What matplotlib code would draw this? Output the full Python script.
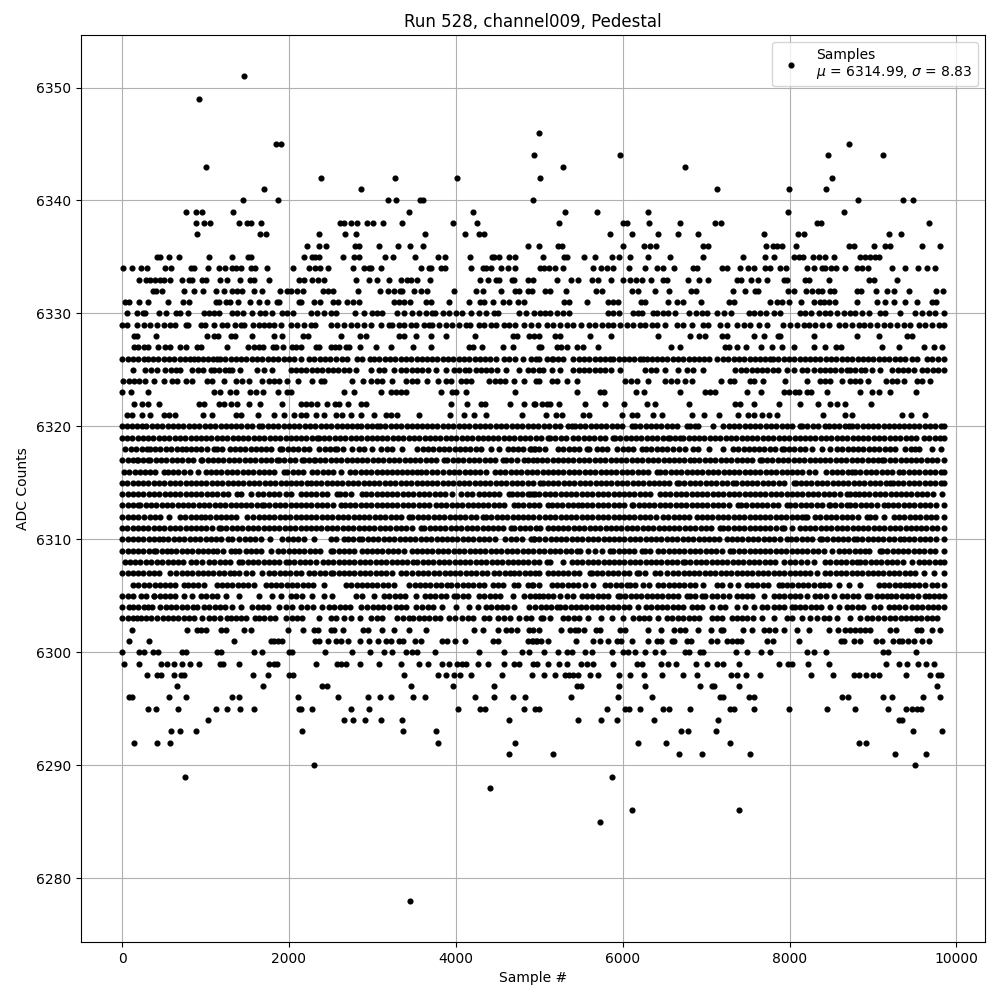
import matplotlib
matplotlib.use("Agg")
import matplotlib.pyplot as plt

# sample numbers, one list per ADC level
s6351 = [1460]
s6349 = [920]
s6346 = [5000]
s6345 = [1844, 1908, 8708]
s6344 = [4940, 5972, 8456, 9116]
s6343 = [1004, 5288, 6752]
s6342 = [2384, 3272, 4016, 5012, 8504]
s6341 = [1700, 2864, 7136, 7988, 8432]
s6340 = [1448, 1868, 3188, 3284, 3572, 3604, 4928, 8816, 9356, 9476]
s6339 = [764, 884, 960, 1328, 3440, 4208, 5312, 5696, 6308, 7976, 8648]
s6338 = [884, 980, 1052, 1400, 1492, 1540, 1664, 2612, 2660, 2748, 2816, 2936, 3008, 3128, 3356, 3968, 4256, 5240, 6008, 6056, 6320, 6692, 7112, 7184, 8324, 8372, 9668]
s6337 = [896, 1652, 1724, 2360, 2672, 2804, 3632, 4112, 4280, 4332, 5852, 6116, 6428, 6668, 6908, 7688, 8096, 8168, 9188, 9332]
s6336 = [2216, 2360, 2444, 2792, 2840, 3080, 3308, 3452, 3608, 4868, 5000, 5228, 5268, 6008, 6260, 6332, 6404, 6968, 7028, 7712, 7796, 7844, 7904, 8072, 8708, 8768, 9008, 9148, 9200, 9584, 9800]
s6335 = [420, 460, 560, 680, 1040, 1316, 1508, 1540, 2180, 2276, 2308, 2360, 2648, 2780, 2840, 3152, 3248, 3512, 3788, 3872, 4172, 4428, 4460, 4512, 4640, 4708, 5048, 5300, 5336, 5540, 5672, 5876, 5960, 6092, 6308, 6572, 6968, 7436, 7700, 7808, 8048, 8108, 8156, 8276, 8348, 8428, 8528, 8848, 8908, 8968, 9028, 9068]
s6334 = [8, 116, 224, 296, 512, 592, 820, 860, 1028, 1160, 1232, 1320, 1360, 1424, 1540, 1592, 1736, 2048, 2240, 2308, 2372, 2468, 2768, 2900, 2960, 2988, 3104, 3584, 3680, 3708, 3820, 3868, 4184, 4320, 4360, 4420, 4540, 4628, 4712, 5008, 5056, 5120, 5192, 5288, 5648, 5744, 5816, 5888, 6080, 6272, 6416, 6488, 6620, 6848, 6896, 7196, 7256, 7412, 7496, 7568, 7700, 7768, 7880, 7960, 8204, 8288, 8388, 8428, 8492, 8560, 8660, 8808, 8868, 8936, 9224, 9380, 9536, 9644, 9740]
s6333 = [200, 292, 340, 400, 460, 500, 572, 716, 800, 840, 960, 1000, 1172, 1256, 1412, 1532, 1580, 1760, 2120, 2180, 2276, 2348, 2420, 2804, 2960, 3056, 3200, 3344, 3420, 3468, 3536, 3692, 4292, 4388, 4480, 4512, 4676, 4692, 4868, 4920, 5216, 5384, 5468, 5628, 5708, 5864, 6008, 6088, 6160, 6232, 6344, 6488, 6536, 6788, 6920, 7028, 7368, 7424, 7532, 7616, 7724, 7928, 7968, 8188, 8228, 8468, 8948, 9008, 9284]
s6332 = [368, 412, 480, 740, 860, 968, 1128, 1220, 1320, 1372, 1436, 1580, 1680, 1892, 1980, 2020, 2092, 2164, 2408, 2468, 2528, 2828, 3092, 3188, 3260, 3332, 3360, 3500, 3584, 3656, 3980, 4244, 4328, 4544, 4708, 4760, 4860, 4908, 5068, 5128, 5324, 5684, 5756, 6116, 6188, 6392, 6560, 6824, 6876, 7328, 7460, 7580, 7616, 7980, 8048, 8192, 8268, 8336, 8388, 8480, 8528, 8804, 8856, 9032, 9164, 9248, 9428, 9752, 9836]
s6331 = [40, 80, 200, 308, 548, 732, 800, 1120, 1160, 1240, 1292, 1388, 1532, 1640, 1736, 1860, 1880, 2120, 2148, 2296, 2372, 2528, 2588, 2692, 2768, 2840, 3260, 3320, 3380, 3448, 3640, 3708, 3920, 4160, 4292, 4340, 4448, 4560, 4640, 4740, 4820, 5300, 5360, 5576, 5828, 5888, 5948, 6224, 6268, 6548, 6648, 6728, 6944, 7280, 7340, 7760, 7848, 7908, 7988, 8132, 8288, 8368, 8408, 8468, 8540, 8804, 9048, 9140, 9248, 9380, 9524, 9708, 9752]
s6330 = [56, 176, 248, 280, 440, 524, 652, 692, 788, 980, 1040, 1100, 1160, 1320, 1380, 1448, 1556, 1652, 1712, 1800, 1920, 1980, 2044, 2260, 2340, 2420, 2500, 2560, 2792, 2900, 2996, 3060, 3120, 3300, 3380, 3480, 3560, 3640, 3720, 3752, 3852, 3920, 4000, 4080, 4184, 4276, 4364, 4460, 4508, 4760, 4840, 4940, 5008, 5068, 5128, 5208, 5288, 5360, 5828, 5888, 5960, 6128, 6188, 6228, 6368, 6408, 6488, 6548, 6628, 6800, 6884, 6956, 7008, 7136, 7220, 7304, 7508, 7568, 7640, 7712, 7808, 7888, 8120, 8188, 8252, 8348, 8428, 8488, 8568, 8648, 8728, 8788, 8868, 8948, 9088, 9148, 9320, 9500, 9588, 9668, 9748, 9848]
s6329 = [0, 60, 180, 260, 340, 420, 500, 580, 640, 760, 790, 940, 990, 1100, 1200, 1260, 1350, 1420, 1460, 1570, 1640, 1700, 1760, 1820, 1900, 2020, 2100, 2180, 2260, 2310, 2500, 2580, 2660, 2740, 2820, 2900, 2980, 3100, 3200, 3230, 3320, 3380, 3460, 3520, 3620, 3680, 3720, 3800, 3880, 3960, 4040, 4120, 4170, 4280, 4340, 4420, 4480, 4580, 4640, 4710, 4820, 4900, 4980, 5088, 5168, 5248, 5328, 5408, 5496, 5600, 5668, 5748, 5828, 5888, 5968, 6048, 6128, 6208, 6268, 6348, 6408, 6508, 6648, 6728, 6828, 6968, 7028, 7168, 7248, 7368, 7448, 7528, 7628, 7728, 7920, 8008, 8088, 8168, 8228, 8308, 8388, 8468, 8588, 8668, 8748, 8828, 8888, 8968, 9048, 9128, 9208, 9288, 9368, 9448, 9548, 9628, 9708, 9788, 9848]
s6328 = [140, 180, 408, 1020, 1100, 1150, 1300, 1350, 1556, 1820, 1916, 2168, 2228, 2624, 2852, 2920, 3320, 3380, 3524, 3704, 3884, 4232, 4680, 4728, 4880, 4940, 4992, 5188, 5248, 5612, 5864, 6428, 6808, 6920, 6992, 7196, 7256, 7568, 7688, 7856, 7888, 8288, 8804, 9068, 9408, 9468]
s6327 = [140, 188, 260, 308, 428, 512, 572, 692, 760, 900, 948, 1256, 1508, 1580, 1640, 1692, 1808, 1848, 1928, 2032, 2084, 2140, 2320, 2360, 2500, 2548, 2600, 2680, 2720, 2852, 3044, 3220, 3484, 3704, 4152, 4200, 4316, 4560, 4680, 4992, 5020, 5216, 5260, 5336, 5456, 5520, 5708, 6584, 6692, 7228, 7276, 7376, 7472, 7652, 7788, 7908, 8048, 8288, 8420, 8556, 8616, 9104, 9308, 9608, 9728, 9824]
s6326 = [0, 65, 130, 195, 260, 308, 370, 435, 500, 560, 625, 690, 750, 810, 860, 908, 970, 1035, 1090, 1140, 1172, 1235, 1300, 1365, 1425, 1490, 1555, 1615, 1680, 1745, 1805, 1870, 1935, 1995, 2060, 2140, 2240, 2305, 2370, 2430, 2495, 2560, 2630, 2700, 2812, 2875, 2972, 3020, 3085, 3150, 3210, 3275, 3340, 3400, 3465, 3530, 3590, 3655, 3720, 3780, 3845, 3910, 3970, 4035, 4100, 4160, 4225, 4290, 4350, 4415, 4480, 4572, 4640, 4705, 4800, 4900, 4960, 5000, 5088, 5148, 5168, 5230, 5288, 5408, 5475, 5540, 5600, 5665, 5730, 5790, 5848, 5888, 5950, 6015, 6080, 6140, 6205, 6248, 6288, 6348, 6408, 6470, 6535, 6600, 6660, 6725, 6790, 6850, 6915, 6980, 7040, 7128, 7200, 7265, 7330, 7390, 7455, 7520, 7580, 7645, 7710, 7768, 7800, 7865, 7930, 7990, 8055, 8120, 8180, 8245, 8310, 8370, 8435, 8500, 8560, 8625, 8690, 8750, 8815, 8880, 8940, 9005, 9070, 9130, 9195, 9260, 9320, 9385, 9468, 9528, 9648, 9710, 9775, 9850]
s6325 = [132, 280, 345, 420, 520, 585, 650, 700, 840, 905, 970, 1060, 1100, 1165, 1230, 1280, 1320, 1412, 1620, 1700, 1796, 2020, 2085, 2150, 2210, 2275, 2340, 2400, 2465, 2530, 2590, 2655, 2720, 2800, 2980, 3080, 3145, 3260, 3340, 3405, 3470, 3540, 3600, 3665, 3760, 3880, 3980, 4040, 4105, 4160, 4240, 4300, 4360, 4425, 4490, 4600, 4760, 4860, 4925, 5000, 5048, 5148, 5248, 5408, 5475, 5540, 5600, 5665, 5730, 5790, 5855, 5968, 6268, 6335, 6400, 6508, 6668, 6768, 6848, 6968, 7348, 7415, 7480, 7548, 7608, 7670, 7735, 7800, 7860, 7968, 8048, 8148, 8215, 8288, 8360, 8425, 8490, 8550, 8615, 8688, 8728, 8790, 8855, 8908, 8988, 9088, 9228, 9295, 9360, 9420, 9488, 9588, 9650, 9715, 9780, 9850]
s6324 = [8, 80, 140, 205, 270, 380, 500, 600, 660, 760, 840, 1020, 1080, 1220, 1360, 1440, 1520, 1680, 1760, 1820, 1885, 1980, 2108, 2272, 2380, 2420, 2760, 2888, 2988, 3055, 3120, 3240, 3408, 3475, 3540, 3652, 3792, 3880, 3945, 4060, 4120, 4180, 4400, 4465, 4530, 4590, 4700, 4812, 4960, 5000, 5148, 5210, 5328, 5456, 6028, 6095, 6168, 6308, 6508, 6575, 6648, 6748, 6828, 7180, 7288, 7336, 7528, 7568, 7676, 7940, 8208, 8368, 8430, 8488, 8624, 8728, 8790, 8848, 8936, 9160, 9225, 9290, 9368, 9528, 9588, 9680]
s6323 = [0, 108, 312, 1100, 1172, 1288, 1360, 1528, 1600, 1692, 1868, 1980, 2020, 2660, 2780, 3108, 3220, 3280, 3340, 3400, 3820, 3960, 4000, 4124, 4712, 5456, 5728, 5776, 6160, 6256, 6692, 6988, 7048, 7108, 7484, 7652, 7928, 7988, 8068, 8108, 8208, 8256, 8444, 8840, 8988, 9068, 9200, 9516]
s6322 = [140, 240, 308, 440, 920, 980, 1160, 1220, 1308, 1372, 1520, 1648, 1920, 2140, 2200, 2260, 2340, 2460, 2548, 2600, 2708, 2860, 2920, 3940, 4136, 4300, 4348, 4652, 4812, 4948, 4936, 5028, 5088, 5128, 5240, 5552, 5788, 6020, 6296, 6392, 6800, 7348, 7408, 7568, 7868, 8120, 8336, 8488, 8568, 8668, 8972]
s6321 = [60, 120, 240, 340, 508, 560, 640, 968, 1080, 1360, 1428, 1628, 1820, 1940, 2060, 2140, 2200, 2328, 2420, 2560, 2640, 2740, 2860, 3020, 3160, 3220, 3292, 3560, 3932, 4100, 4220, 4360, 4788, 5080, 5200, 5268, 5528, 5600, 5996, 6108, 6168, 6360, 6468, 6836, 6980, 7160, 7388, 7496, 7576, 7668, 7756, 7848, 8396, 8668, 8748, 9348, 9452, 9620]
s6320 = [0, 60, 120, 180, 240, 292, 355, 420, 480, 545, 610, 670, 735, 800, 860, 925, 990, 1050, 1115, 1180, 1240, 1305, 1370, 1430, 1495, 1560, 1640, 1680, 1745, 1810, 1870, 1935, 2000, 2060, 2125, 2190, 2250, 2315, 2380, 2440, 2505, 2570, 2630, 2695, 2760, 2820, 2868, 2930, 3000, 3060, 3092, 3155, 3220, 3280, 3345, 3410, 3470, 3535, 3600, 3660, 3720, 3780, 3845, 3910, 3970, 4035, 4100, 4160, 4225, 4290, 4350, 4415, 4480, 4540, 4605, 4670, 4730, 4795, 4860, 4920, 4985, 5056, 5120, 5185, 5250, 5348, 5388, 5428, 5488, 5550, 5615, 5680, 5740, 5805, 5870, 5930, 5995, 6108, 6148, 6210, 6275, 6340, 6400, 6465, 6530, 6590, 6655, 6768, 6808, 6870, 6908, 7088, 7208, 7270, 7335, 7400, 7460, 7525, 7590, 7650, 7715, 7780, 7840, 7905, 7970, 8030, 8128, 8148, 8210, 8275, 8340, 8428, 8468, 8530, 8595, 8660, 8708, 8748, 8810, 8875, 8940, 9000, 9065, 9130, 9190, 9255, 9308, 9368, 9428, 9490, 9555, 9620, 9680, 9745, 9810, 9850]
s6319 = [0, 60, 120, 185, 250, 310, 375, 440, 500, 565, 630, 690, 755, 820, 880, 945, 1010, 1070, 1135, 1200, 1260, 1325, 1390, 1450, 1515, 1580, 1640, 1705, 1770, 1830, 1895, 1960, 2020, 2085, 2150, 2210, 2275, 2340, 2360, 2420, 2485, 2550, 2610, 2675, 2740, 2800, 2865, 2930, 2990, 3055, 3120, 3180, 3245, 3310, 3370, 3435, 3500, 3560, 3625, 3690, 3750, 3815, 3880, 3940, 4005, 4070, 4130, 4195, 4260, 4320, 4385, 4450, 4510, 4575, 4640, 4700, 4765, 4830, 4890, 4955, 5020, 5108, 5128, 5190, 5255, 5320, 5408, 5470, 5535, 5600, 5660, 5725, 5790, 5888, 5908, 5970, 6035, 6100, 6160, 6225, 6290, 6350, 6415, 6480, 6548, 6568, 6630, 6688, 6728, 6790, 6855, 6920, 6980, 7045, 7110, 7170, 7235, 7300, 7360, 7425, 7490, 7550, 7615, 7680, 7740, 7805, 7870, 7930, 7995, 8060, 8120, 8185, 8250, 8310, 8375, 8440, 8500, 8565, 8630, 8690, 8755, 8820, 8880, 8945, 9010, 9070, 9135, 9200, 9260, 9325, 9390, 9450, 9515, 9608, 9676, 9740, 9805, 9848]
s6318 = [40, 105, 170, 235, 300, 332, 395, 460, 525, 590, 655, 720, 760, 825, 890, 950, 1015, 1100, 1132, 1195, 1292, 1348, 1410, 1475, 1540, 1600, 1665, 1730, 1790, 1892, 1920, 1985, 2050, 2110, 2175, 2240, 2360, 2428, 2490, 2548, 2580, 2645, 2760, 2840, 2905, 3000, 3108, 3170, 3235, 3360, 3540, 3605, 3670, 3730, 3795, 3860, 3920, 3985, 4050, 4110, 4175, 4240, 4300, 4420, 4520, 4620, 4680, 4745, 4810, 4900, 4940, 5000, 4888, 4950, 5068, 5228, 5290, 5355, 5420, 5480, 5568, 5600, 5688, 5748, 5808, 5936, 6000, 6060, 6125, 6228, 6280, 6345, 6410, 6470, 6535, 6600, 6680, 6745, 6848, 6908, 7040, 7208, 7320, 7388, 7450, 7508, 7568, 7630, 7695, 7760, 7820, 7908, 7928, 7990, 8055, 8120, 8180, 8268, 8388, 8488, 8568, 8630, 8695, 8760, 8820, 8885, 8950, 9010, 9075, 9140, 9200, 9268, 9388, 9450, 9508, 9548, 9708, 9816]
s6317 = [0, 65, 130, 180, 188, 250, 308, 340, 405, 470, 530, 595, 660, 720, 785, 850, 940, 960, 1025, 1090, 1150, 1215, 1280, 1340, 1405, 1470, 1530, 1595, 1660, 1720, 1785, 1860, 1880, 1945, 2010, 2070, 2160, 2180, 2240, 2300, 2308, 2370, 2435, 2500, 2560, 2625, 2690, 2750, 2815, 2880, 2940, 3005, 3070, 3130, 3195, 3260, 3320, 3385, 3450, 3510, 3575, 3640, 3700, 3765, 3860, 3900, 3965, 4030, 4090, 4155, 4220, 4280, 4345, 4410, 4470, 4560, 4600, 4665, 4730, 4820, 4860, 4925, 4968, 5030, 5095, 5160, 5220, 5285, 5350, 5410, 5475, 5540, 5600, 5665, 5730, 5790, 5855, 5920, 5980, 6045, 6110, 6170, 6235, 6300, 6360, 6425, 6490, 6550, 6615, 6680, 6740, 6808, 6856, 6920, 6985, 7050, 7110, 7175, 7240, 7300, 7365, 7430, 7490, 7555, 7648, 7668, 7730, 7795, 7860, 7920, 7985, 8050, 8110, 8175, 8240, 8300, 8365, 8430, 8490, 8555, 8620, 8680, 8745, 8810, 8870, 8935, 9000, 9060, 9108, 9136, 9200, 9265, 9330, 9390, 9455, 9520, 9580, 9645, 9710, 9770, 9850]
s6316 = [20, 85, 150, 210, 275, 340, 400, 500, 548, 610, 675, 740, 808, 908, 1000, 1065, 1130, 1190, 1255, 1320, 1380, 1445, 1510, 1570, 1635, 1700, 1760, 1825, 1940, 1980, 2045, 2110, 2170, 2280, 2340, 2405, 2470, 2530, 2620, 2732, 2795, 2860, 2920, 2985, 3050, 3110, 3175, 3240, 3292, 3355, 3420, 3480, 3540, 3580, 3645, 3710, 3780, 3852, 3915, 3980, 4040, 4105, 4170, 4230, 4295, 4360, 4468, 4530, 4595, 4660, 4720, 4785, 4850, 4910, 4975, 5040, 5100, 5165, 5230, 5290, 5355, 5420, 5480, 5545, 5610, 5670, 5735, 5800, 5860, 5925, 5990, 6050, 6115, 6180, 6240, 6305, 6408, 6448, 6510, 6575, 6640, 6700, 6765, 6830, 6890, 6955, 7020, 7080, 7145, 7210, 7270, 7335, 7400, 7460, 7525, 7590, 7650, 7715, 7780, 7840, 7905, 7970, 8030, 8088, 8148, 8228, 8300, 8440, 8505, 8570, 8630, 8695, 8748, 8788, 8850, 8915, 8980, 9040, 9105, 9170, 9230, 9308, 9360, 9428, 9490, 9555, 9620, 9680, 9745, 9810, 9850]
s6315 = [0, 60, 125, 190, 250, 315, 380, 440, 505, 570, 630, 695, 760, 820, 885, 950, 1010, 1075, 1140, 1200, 1265, 1330, 1390, 1455, 1520, 1580, 1645, 1710, 1770, 1835, 1900, 1960, 2025, 2090, 2150, 2220, 2260, 2325, 2390, 2450, 2515, 2580, 2640, 2705, 2770, 2830, 2895, 2960, 3020, 3085, 3150, 3210, 3275, 3340, 3400, 3465, 3530, 3590, 3655, 3720, 3780, 3845, 3910, 3970, 4035, 4100, 4160, 4225, 4290, 4350, 4415, 4480, 4540, 4605, 4670, 4730, 4795, 4860, 4920, 5008, 5040, 5105, 5170, 5230, 5295, 5360, 5420, 5485, 5550, 5610, 5675, 5740, 5800, 5865, 5930, 5990, 6055, 6120, 6180, 6245, 6310, 6370, 6435, 6500, 6560, 6648, 6676, 6740, 6805, 6870, 6930, 6995, 7060, 7120, 7185, 7250, 7328, 7360, 7425, 7490, 7550, 7615, 7680, 7740, 7805, 7870, 7930, 8048, 8072, 8135, 8200, 8260, 8325, 8390, 8450, 8515, 8580, 8640, 8705, 8770, 8830, 8895, 8960, 9020, 9085, 9150, 9208, 9236, 9300, 9365, 9430, 9490, 9555, 9620, 9680, 9745, 9810, 9850]
s6314 = [0, 65, 130, 190, 255, 320, 380, 445, 510, 570, 635, 700, 760, 825, 890, 950, 1015, 1080, 1140, 1205, 1270, 1380, 1420, 1540, 1628, 1690, 1755, 1820, 1880, 1960, 2020, 2140, 2205, 2270, 2330, 2395, 2460, 2580, 2612, 2675, 2740, 2880, 2920, 2985, 3050, 3110, 3175, 3240, 3300, 3365, 3430, 3490, 3555, 3620, 3680, 3745, 3810, 3870, 3960, 4068, 4130, 4195, 4280, 4332, 4395, 4460, 4520, 4640, 4668, 4730, 4795, 4860, 4920, 5000, 4888, 4950, 5065, 5130, 5190, 5255, 5320, 5380, 5445, 5510, 5570, 5635, 5700, 5760, 5825, 5890, 5950, 6015, 6080, 6140, 6205, 6270, 6330, 6448, 6508, 6570, 6635, 6700, 6760, 6825, 6890, 6950, 7015, 7080, 7140, 7205, 7270, 7330, 7395, 7460, 7520, 7585, 7650, 7710, 7775, 7840, 7900, 7965, 8030, 8090, 8155, 8220, 8280, 8345, 8410, 8470, 8535, 8600, 8688, 8728, 8788, 8828, 8890, 8955, 9020, 9080, 9145, 9210, 9270, 9335, 9400, 9460, 9525, 9590, 9650, 9715, 9828]
s6313 = [0, 65, 130, 188, 220, 285, 350, 410, 475, 540, 600, 665, 730, 790, 855, 920, 980, 1045, 1110, 1170, 1235, 1300, 1360, 1425, 1490, 1550, 1615, 1680, 1700, 1765, 1830, 1890, 1955, 2020, 2080, 2145, 2210, 2270, 2335, 2400, 2460, 2525, 2620, 2668, 2730, 2795, 2860, 2920, 2985, 3050, 3110, 3175, 3240, 3300, 3365, 3430, 3490, 3555, 3620, 3680, 3760, 3820, 3885, 3950, 4010, 4075, 4140, 4200, 4265, 4330, 4390, 4455, 4520, 4580, 4692, 4748, 4810, 4875, 4940, 5000, 5108, 5148, 5210, 5275, 5340, 5400, 5468, 5508, 5570, 5635, 5700, 5760, 5825, 5890, 5950, 6015, 6108, 6128, 6190, 6255, 6320, 6380, 6445, 6510, 6570, 6635, 6700, 6760, 6825, 6890, 6950, 7015, 7080, 7140, 7205, 7270, 7388, 7416, 7480, 7545, 7610, 7670, 7735, 7800, 7860, 7968, 8008, 8070, 8135, 8200, 8260, 8325, 8390, 8468, 8488, 8550, 8615, 8688, 8728, 8790, 8855, 8920, 8980, 9045, 9128, 9176, 9240, 9305, 9370, 9430, 9495, 9560, 9620, 9685, 9750, 9850]
s6312 = [0, 65, 130, 190, 260, 332, 395, 460, 560, 692, 755, 820, 880, 940, 992, 1055, 1120, 1180, 1245, 1310, 1370, 1500, 1572, 1635, 1700, 1760, 1825, 1890, 1950, 2015, 2080, 2140, 2205, 2270, 2330, 2395, 2460, 2520, 2585, 2650, 2710, 2775, 2840, 2900, 2965, 3030, 3090, 3155, 3220, 3280, 3345, 3440, 3480, 3545, 3610, 3670, 3735, 3800, 3860, 3925, 3990, 4050, 4115, 4180, 4240, 4320, 4360, 4425, 4490, 4550, 4615, 4680, 4740, 4805, 4870, 4930, 5000, 5065, 5130, 5190, 5255, 5320, 5380, 5445, 5510, 5570, 5635, 5700, 5760, 5825, 5890, 5950, 6015, 6080, 6140, 6205, 6270, 6330, 6395, 6488, 6548, 6610, 6675, 6740, 6800, 6888, 6948, 7010, 7075, 7140, 7200, 7265, 7330, 7390, 7455, 7520, 7580, 7645, 7710, 7770, 7835, 7900, 7960, 8025, 8090, 8150, 8188, 8208, 8308, 8370, 8435, 8500, 8560, 8625, 8690, 8750, 8815, 8928, 8968, 9028, 9128, 9248, 9310, 9375, 9440, 9500, 9565, 9630, 9690, 9755, 9850]
s6311 = [0, 60, 125, 190, 250, 315, 380, 440, 505, 570, 630, 695, 760, 820, 885, 950, 1010, 1075, 1160, 1188, 1250, 1315, 1380, 1440, 1505, 1570, 1630, 1695, 1760, 1820, 1885, 1950, 2010, 2075, 2140, 2200, 2265, 2330, 2390, 2455, 2520, 2580, 2645, 2710, 2770, 2835, 2900, 2960, 3025, 3090, 3150, 3215, 3280, 3340, 3405, 3470, 3580, 3620, 3685, 3750, 3810, 3875, 3940, 4000, 4065, 4130, 4190, 4255, 4320, 4380, 4445, 4510, 4570, 4660, 4700, 4765, 4830, 4890, 4955, 5008, 5108, 5165, 5228, 5288, 5350, 5415, 5480, 5540, 5605, 5670, 5730, 5795, 5860, 5920, 5985, 6050, 6110, 6175, 6240, 6300, 6365, 6430, 6490, 6555, 6620, 6680, 6745, 6810, 6870, 6935, 7000, 7060, 7168, 7200, 7265, 7330, 7390, 7455, 7520, 7580, 7645, 7710, 7770, 7835, 7908, 7928, 8028, 8120, 8185, 8250, 8310, 8375, 8440, 8500, 8565, 8630, 8690, 8755, 8820, 8880, 8945, 9010, 9070, 9135, 9200, 9260, 9325, 9390, 9450, 9515, 9580, 9640, 9705, 9770, 9848]
s6310 = [0, 65, 130, 190, 255, 320, 380, 440, 492, 555, 620, 680, 745, 810, 870, 935, 1000, 1060, 1125, 1190, 1268, 1320, 1400, 1468, 1530, 1595, 1660, 1772, 1920, 1985, 2050, 2110, 2175, 2300, 2500, 2565, 2660, 2708, 2770, 2840, 2880, 2945, 3010, 3070, 3135, 3200, 3260, 3325, 3390, 3450, 3515, 3580, 3640, 3705, 3770, 3830, 3895, 3960, 4020, 4085, 4150, 4210, 4275, 4340, 4400, 4465, 4588, 4660, 4725, 4790, 4900, 4932, 5000, 4936, 5070, 5135, 5200, 5260, 5325, 5390, 5450, 5515, 5580, 5640, 5705, 5770, 5830, 5895, 5960, 6020, 6085, 6150, 6210, 6275, 6340, 6400, 6465, 6530, 6590, 6655, 6720, 6780, 6845, 6910, 6970, 7035, 7100, 7160, 7248, 7308, 7370, 7435, 7500, 7560, 7625, 7690, 7750, 7815, 7880, 7968, 8016, 8080, 8145, 8210, 8270, 8368, 8388, 8450, 8515, 8580, 8640, 8705, 8768, 8808, 8870, 8935, 9000, 9060, 9125, 9190, 9250, 9328, 9368, 9430, 9495, 9560, 9620, 9685, 9750, 9850]
s6309 = [0, 65, 130, 190, 255, 320, 380, 412, 475, 540, 588, 652, 715, 780, 840, 905, 970, 1030, 1092, 1140, 1205, 1300, 1348, 1400, 1480, 1545, 1610, 1670, 1780, 1868, 1930, 1995, 2060, 2120, 2185, 2250, 2310, 2375, 2500, 2532, 2595, 2660, 2720, 2785, 2880, 2932, 2995, 3060, 3120, 3185, 3250, 3310, 3375, 3480, 3532, 3595, 3660, 3720, 3785, 3850, 3910, 3975, 4040, 4100, 4165, 4230, 4290, 4355, 4420, 4480, 4545, 4610, 4670, 4735, 4800, 4860, 4925, 5000, 5060, 5125, 5190, 5250, 5315, 5380, 5448, 5488, 5588, 5668, 5748, 5848, 5888, 5950, 6015, 6080, 6140, 6228, 6268, 6330, 6428, 6488, 6550, 6615, 6680, 6740, 6805, 6870, 6930, 6995, 7060, 7120, 7185, 7288, 7328, 7390, 7455, 7520, 7580, 7645, 7710, 7770, 7835, 7900, 7960, 8025, 8090, 8150, 8215, 8280, 8340, 8408, 8508, 8588, 8650, 8715, 8780, 8840, 8908, 8948, 9088, 9108, 9170, 9235, 9300, 9360, 9425, 9490, 9550, 9615, 9680, 9740, 9848]
s6308 = [30, 95, 160, 220, 285, 350, 420, 480, 545, 610, 670, 735, 820, 880, 960, 1040, 1105, 1170, 1230, 1295, 1400, 1440, 1505, 1570, 1630, 1695, 1760, 1820, 1885, 1960, 2000, 2065, 2130, 2190, 2255, 2320, 2412, 2468, 2530, 2595, 2660, 2720, 2785, 2850, 2910, 2975, 3040, 3100, 3165, 3230, 3290, 3355, 3420, 3492, 3540, 3605, 3670, 3730, 3795, 3860, 3920, 3985, 4050, 4110, 4175, 4240, 4300, 4365, 4430, 4490, 4555, 4620, 4680, 4745, 4810, 4870, 4935, 5000, 5088, 5128, 5288, 5388, 5450, 5515, 5580, 5640, 5705, 5770, 5830, 5895, 5960, 6020, 6085, 6150, 6210, 6275, 6340, 6400, 6465, 6530, 6590, 6655, 6728, 6748, 6810, 6875, 6940, 7000, 7065, 7130, 7190, 7255, 7320, 7380, 7445, 7510, 7570, 7635, 7700, 7760, 7825, 7928, 8008, 8070, 8135, 8208, 8296, 8428, 8490, 8555, 8620, 8680, 8745, 8808, 8848, 8910, 8975, 9040, 9100, 9165, 9230, 9290, 9355, 9468, 9548, 9610, 9675, 9740, 9800, 9850]
s6307 = [0, 65, 130, 190, 255, 320, 380, 445, 580, 652, 715, 780, 840, 905, 970, 1030, 1095, 1160, 1220, 1292, 1340, 1405, 1480, 1560, 1680, 1760, 1825, 1890, 1950, 2015, 2080, 2140, 2240, 2305, 2370, 2430, 2500, 2532, 2595, 2660, 2720, 2785, 2850, 2910, 2975, 3040, 3100, 3165, 3230, 3340, 3400, 3480, 3545, 3610, 3670, 3740, 3800, 3865, 3930, 3990, 4055, 4120, 4180, 4245, 4310, 4370, 4460, 4520, 4585, 4650, 4700, 4760, 4825, 4890, 4950, 5000, 5108, 5160, 5225, 5290, 5350, 5415, 5480, 5608, 5628, 5690, 5755, 5820, 5880, 5945, 6010, 6070, 6168, 6200, 6265, 6388, 6448, 6536, 6600, 6665, 6730, 6790, 6855, 6920, 6988, 7048, 7110, 7175, 7240, 7300, 7365, 7430, 7490, 7555, 7620, 7680, 7745, 7810, 7870, 7935, 8000, 8060, 8125, 8190, 8250, 8328, 8428, 8490, 8555, 8620, 8680, 8745, 8810, 8870, 8935, 9000, 9060, 9125, 9190, 9250, 9315, 9380, 9440, 9505, 9608, 9728, 9848]
s6306 = [132, 195, 260, 325, 390, 450, 520, 572, 635, 748, 788, 850, 915, 980, 1132, 1195, 1260, 1320, 1385, 1450, 1510, 1580, 1720, 1785, 1850, 1910, 1975, 2040, 2100, 2165, 2230, 2290, 2420, 2680, 2745, 2810, 2870, 2935, 3000, 3060, 3125, 3190, 3260, 3440, 3505, 3570, 3630, 3695, 3760, 3820, 3900, 3940, 4020, 4085, 4150, 4210, 4275, 4340, 4440, 4508, 4570, 4700, 4740, 4860, 4920, 5000, 4908, 5148, 5210, 5275, 5340, 5400, 5465, 5548, 5648, 5788, 5850, 5915, 5980, 6048, 6088, 6150, 6248, 6320, 6428, 6488, 6550, 6615, 6680, 6740, 6805, 6870, 6968, 7128, 7190, 7288, 7388, 7488, 7550, 7615, 7680, 7740, 7868, 7908, 7970, 8035, 8100, 8160, 8225, 8290, 8368, 8408, 8470, 8588, 8708, 8848, 9068, 9130, 9195, 9260, 9320, 9388, 9428, 9490, 9555, 9628, 9708, 9770, 9848]
s6305 = [0, 65, 132, 228, 290, 380, 388, 450, 515, 580, 640, 748, 840, 948, 1010, 1075, 1140, 1240, 1400, 1640, 1800, 1900, 2028, 2090, 2155, 2280, 2420, 2520, 2800, 2880, 3020, 3140, 3205, 3270, 3330, 3395, 3520, 3628, 3690, 3755, 3820, 3880, 3980, 4020, 4085, 4150, 4280, 4340, 4405, 4470, 4530, 4680, 4820, 4885, 4950, 5000, 5048, 5108, 5168, 5248, 5328, 5408, 5508, 5570, 5635, 5700, 5760, 5825, 5948, 5968, 6030, 6095, 6160, 6220, 6288, 6348, 6410, 6475, 6540, 6600, 6665, 6768, 6808, 6870, 6948, 6988, 7068, 7128, 7208, 7270, 7368, 7428, 7490, 7555, 7688, 7808, 7870, 7935, 8000, 8060, 8125, 8208, 8308, 8370, 8435, 8528, 8628, 8690, 8755, 8820, 8928, 8968, 9048, 9110, 9168, 9216, 9280, 9345, 9410, 9470, 9535, 9628, 9668, 9730, 9795, 9850]
s6304 = [0, 80, 132, 195, 260, 308, 360, 460, 525, 590, 650, 715, 780, 852, 892, 980, 1045, 1110, 1170, 1235, 1320, 1420, 1560, 1625, 1690, 1750, 1880, 1960, 2040, 2140, 2220, 2285, 2400, 2480, 2545, 2610, 2670, 2735, 2860, 2940, 3005, 3070, 3130, 3195, 3280, 3340, 3405, 3520, 3600, 3665, 3730, 3840, 4000, 4160, 4260, 4360, 4425, 4490, 4550, 4615, 4700, 4880, 4945, 5020, 5080, 5145, 5208, 5248, 5310, 5375, 5440, 5500, 5565, 5630, 5690, 5755, 5820, 5880, 5945, 6010, 6070, 6188, 6280, 6345, 6410, 6470, 6535, 6600, 6660, 6725, 6828, 6888, 6950, 7068, 7168, 7230, 7368, 7468, 7576, 7668, 7730, 7808, 7868, 7930, 8028, 8068, 8128, 8190, 8255, 8320, 8380, 8488, 8588, 8688, 8750, 8815, 8880, 9008, 9088, 9188, 9250, 9315, 9380, 9468, 9528, 9590, 9655, 9720, 9780, 9850]
s6303 = [0, 65, 130, 180, 228, 290, 348, 420, 485, 550, 610, 675, 740, 800, 865, 960, 1040, 1105, 1170, 1260, 1300, 1365, 1430, 1490, 1588, 1640, 1705, 1770, 1830, 1960, 2040, 2100, 2160, 2360, 2500, 2565, 2660, 2748, 2852, 2988, 3050, 3120, 3300, 3365, 3440, 3492, 3555, 3620, 3680, 3745, 3810, 3920, 3992, 4080, 4145, 4210, 4340, 4400, 4500, 4580, 4645, 4760, 4840, 4905, 5020, 5048, 5128, 5288, 5350, 5415, 5480, 5580, 5744, 5868, 6000, 6128, 6190, 6255, 6320, 6428, 6528, 6590, 6668, 6728, 6790, 6855, 6920, 7068, 7128, 7190, 7308, 7368, 7430, 7495, 7560, 7668, 7808, 7968, 8030, 8148, 8248, 8328, 8408, 8470, 8568, 8720, 8840, 8928, 8990, 9055, 9128, 9200, 9265, 9330, 9390, 9455, 9520, 9580, 9645, 9710, 9768]
s6302 = [116, 772, 892, 940, 1000, 1180, 1240, 1460, 1544, 1988, 2168, 2300, 2348, 2500, 2540, 2648, 2892, 2948, 3116, 3260, 3440, 3644, 4220, 4328, 4508, 4600, 4660, 4732, 4880, 4920, 5000, 5260, 5368, 5428, 5468, 5536, 5680, 5728, 5968, 6028, 6308, 6464, 6620, 6688, 6748, 6900, 7060, 7176, 7208, 7436, 7544, 7688, 7748, 7820, 7928, 8084, 8228, 8468, 8576, 8668, 8720, 8788, 8848, 8908, 8968, 9200, 9272, 9528, 9576, 9708, 9800]
s6301 = [80, 320, 1340, 1780, 1820, 1872, 1916, 2308, 2360, 2468, 2560, 2620, 2708, 2852, 2960, 3068, 3160, 3220, 3320, 3372, 3508, 3580, 3840, 3892, 3992, 4112, 4448, 4508, 4868, 4920, 4972, 4908, 4960, 5016, 5108, 5444, 5648, 5728, 5828, 5936, 5976, 6108, 6308, 6408, 6456, 6588, 6616, 6768, 6816, 7056, 7136, 7256, 7308, 7376, 7416, 7724, 7796, 8108, 8616, 8656, 8768, 8848, 9032, 9104, 9240, 9308, 9348, 9416, 9488, 9588, 9676]
s6300 = [0, 208, 260, 368, 432, 720, 760, 1140, 1180, 1584, 1680, 2000, 2032, 2436, 2760, 2976, 3144, 3232, 3404, 3480, 3540, 3752, 4280, 4580, 4796, 4880, 5060, 5228, 5336, 5396, 5552, 5636, 5876, 6008, 6060, 6144, 6264, 6392, 6480, 6752, 6792, 6928, 6968, 7364, 7484, 7652, 7760, 8208, 8288, 8432, 9116, 9176, 9516]
s6299 = [20, 200, 464, 536, 620, 716, 812, 920, 1172, 1212, 1400, 1760, 1820, 1860, 2324, 2580, 2628, 2680, 2852, 3080, 3344, 3560, 3668, 3840, 3916, 4020, 4080, 4120, 4260, 4388, 4580, 4692, 4760, 4920, 4976, 5108, 5240, 5336, 5496, 5568, 5648, 5888, 6168, 6228, 6464, 6548, 6644, 6884, 7008, 7128, 7208, 7400, 7868, 7976, 8028, 8216, 8468, 9152, 9308, 9404, 9536, 9632, 9736]
s6298 = [296, 420, 464, 620, 708, 748, 1568, 1748, 2000, 2048, 3380, 3788, 3884, 3980, 4052, 4184, 4556, 4908, 5060, 5192, 5308, 5360, 5408, 5468, 5612, 5708, 5960, 6092, 6260, 6476, 6728, 6896, 7304, 7376, 7472, 7640, 8252, 8516, 8768, 8828, 8912, 8996, 9068, 9392, 9680, 9776, 9816]
s6297 = [656, 1688, 2396, 2456, 3464, 3968, 4460, 5448, 5496, 5960, 6272, 6932, 7068, 7100, 7400, 9764]
s6296 = [80, 120, 560, 764, 1316, 1400, 2108, 2588, 2948, 3092, 3224, 3488, 3632, 4232, 4460, 4688, 4832, 5384, 5948, 6356, 7168, 7208, 7508, 7576, 8624, 8696, 9116, 9232, 9596, 9800]
s6295 = [308, 404, 668, 1124, 1256, 1412, 1580, 2120, 2148, 2276, 2744, 2960, 4028, 4288, 4352, 4820, 4952, 5000, 5816, 6032, 6080, 6212, 6488, 6560, 6812, 7292, 7340, 7568, 7988, 8444, 8780, 9176, 9392, 9464, 9528, 9576]
s6294 = [1028, 2660, 2768, 2912, 3104, 3356, 4640, 5468, 5744, 5936, 6380, 7148, 9308, 9348]
s6293 = [584, 692, 884, 2156, 3368, 3764, 6704, 6788, 7124, 9476, 9824]
s6292 = [140, 416, 572, 3788, 4712, 6188, 6524, 7292, 8828, 8912]
s6291 = [4640, 5168, 6680, 6956, 7520, 9260, 9632]
s6290 = [2300, 9500]
s6289 = [752, 5876]
s6288 = [4412]
s6286 = [6116, 7400]
s6285 = [5732]
s6278 = [3452]

levels = [6351, 6349, 6346, 6345, 6344, 6343, 6342, 6341, 6340, 6339, 6338, 6337, 6336, 6335, 6334, 6333, 6332, 6331, 6330,
          6329, 6328, 6327, 6326, 6325, 6324, 6323, 6322, 6321, 6320, 6319, 6318, 6317, 6316, 6315, 6314, 6313, 6312, 6311,
          6310, 6309, 6308, 6307, 6306, 6305, 6304, 6303, 6302, 6301, 6300, 6299, 6298, 6297, 6296, 6295, 6294, 6293, 6292,
          6291, 6290, 6289, 6288, 6286, 6285, 6278]
rows = [s6351, s6349, s6346, s6345, s6344, s6343, s6342, s6341, s6340, s6339, s6338, s6337, s6336, s6335, s6334, s6333, s6332, s6331, s6330,
        s6329, s6328, s6327, s6326, s6325, s6324, s6323, s6322, s6321, s6320, s6319, s6318, s6317, s6316, s6315, s6314, s6313, s6312, s6311,
        s6310, s6309, s6308, s6307, s6306, s6305, s6304, s6303, s6302, s6301, s6300, s6299, s6298, s6297, s6296, s6295, s6294, s6293, s6292,
        s6291, s6290, s6289, s6288, s6286, s6285, s6278]

x = []
y = []
for level, row in zip(levels, rows):
    for sample in row:
        x.append(sample)
        y.append(level)

fig, ax = plt.subplots(figsize=(10, 10))
ax.plot(x, y, 'k.', markersize=6.8, label='Samples\n$\\mu$ = 6314.99, $\\sigma$ = 8.83')
ax.set_title('Run 528, channel009, Pedestal')
ax.set_xlabel('Sample #')
ax.set_ylabel('ADC Counts')
ax.grid(True)
ax.legend(loc='upper right')
fig.subplots_adjust(left=0.081, right=0.985, top=0.965, bottom=0.058)
fig.savefig('out.png', dpi=100)
